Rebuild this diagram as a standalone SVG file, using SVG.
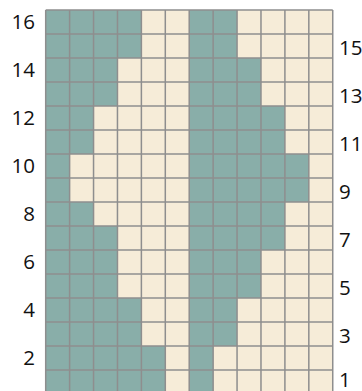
<svg xmlns="http://www.w3.org/2000/svg" width="362" height="391" viewBox="0 0 362 391">
<style>
.t{fill:#89aea9}
.g{stroke:#8e8e8e;stroke-width:1.5;fill:none}
.l{font-family:"Open Sans","Noto Sans",sans-serif;font-size:20.5px;fill:#111}
.le{text-anchor:end}
</style>
<rect x="0" y="0" width="362" height="391" fill="#ffffff"/>
<rect x="45.7" y="10" width="287.04" height="384" fill="#f6ecd8"/>
<g id="teal">
<rect class="t" x="45.7" y="10" width="95.68" height="48"/>
<rect class="t" x="189.22" y="10" width="47.84" height="48"/>
<rect class="t" x="45.7" y="58" width="71.76" height="48"/>
<rect class="t" x="189.22" y="58" width="71.76" height="48"/>
<rect class="t" x="45.7" y="106" width="47.84" height="48"/>
<rect class="t" x="189.22" y="106" width="95.68" height="48"/>
<rect class="t" x="45.7" y="154" width="23.92" height="48"/>
<rect class="t" x="189.22" y="154" width="119.6" height="48"/>
<rect class="t" x="45.7" y="202" width="47.84" height="24"/>
<rect class="t" x="189.22" y="202" width="95.68" height="48"/>
<rect class="t" x="45.7" y="226" width="71.76" height="72"/>
<rect class="t" x="189.22" y="250" width="71.76" height="48"/>
<rect class="t" x="45.7" y="298" width="95.68" height="48"/>
<rect class="t" x="189.22" y="298" width="47.84" height="48"/>
<rect class="t" x="45.7" y="346" width="119.6" height="48"/>
<rect class="t" x="189.22" y="346" width="23.92" height="48"/>
</g>
<g id="grid" class="g">
<path d="M45.7 10V394M69.62 10V394M93.54 10V394M117.46 10V394M141.38 10V394M165.3 10V394M189.22 10V394M213.14 10V394M237.06 10V394M260.98 10V394M284.9 10V394M308.82 10V394M332.74 10V394"/>
<path d="M45.7 10H332.74M45.7 34H332.74M45.7 58H332.74M45.7 82H332.74M45.7 106H332.74M45.7 130H332.74M45.7 154H332.74M45.7 178H332.74M45.7 202H332.74M45.7 226H332.74M45.7 250H332.74M45.7 274H332.74M45.7 298H332.74M45.7 322H332.74M45.7 346H332.74M45.7 370H332.74"/>
</g>
<g id="left-labels" class="l le">
<text x="35" y="29">16</text>
<text x="35" y="77">14</text>
<text x="35" y="125">12</text>
<text x="35" y="173">10</text>
<text x="35" y="221">8</text>
<text x="35" y="269">6</text>
<text x="35" y="317">4</text>
<text x="35" y="365">2</text>
</g>
<g id="right-labels" class="l">
<text x="339" y="55">15</text>
<text x="339" y="103">13</text>
<text x="339" y="151">11</text>
<text x="339" y="199">9</text>
<text x="339" y="247">7</text>
<text x="339" y="295">5</text>
<text x="339" y="343">3</text>
<text x="339" y="386.5">1</text>
</g>
</svg>
